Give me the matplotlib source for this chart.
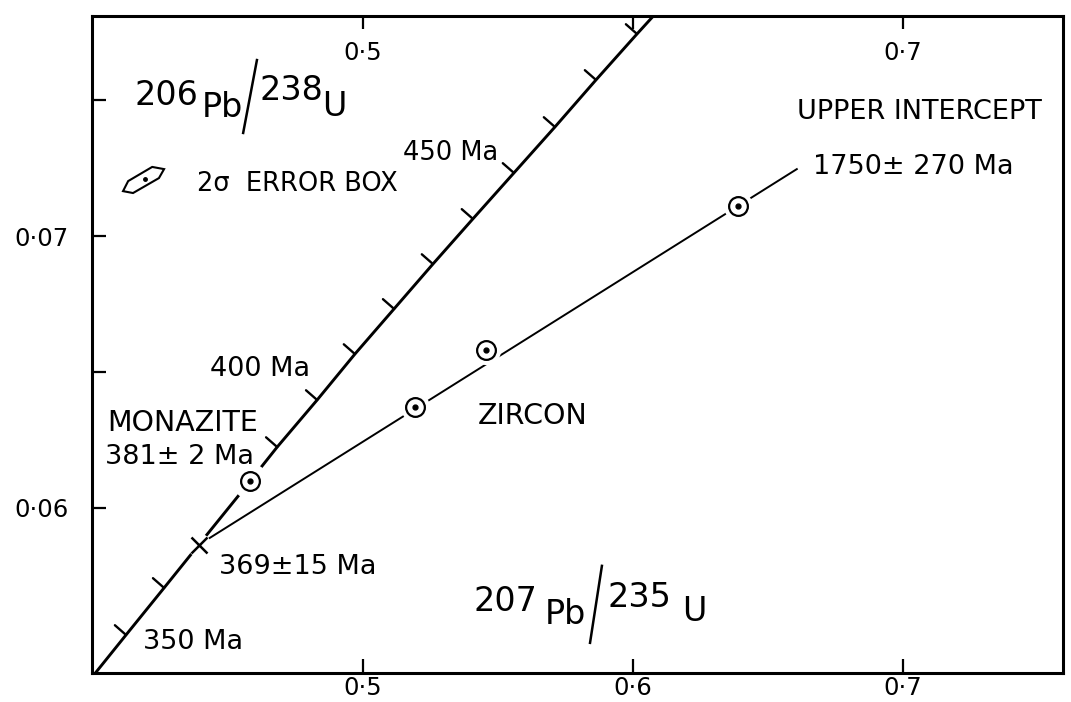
import matplotlib
matplotlib.use("Agg")
import matplotlib.pyplot as plt
from matplotlib.patches import Polygon

# concordia: 207Pb/235U (x), 206Pb/238U (y), ages in Ma
conc_age = [340, 350, 360, 370, 380, 390, 400, 410, 420, 430, 440, 450, 460, 470, 480, 490]
conc_x = [0.3985, 0.4122, 0.4263, 0.4400, 0.4541, 0.4682, 0.4830, 0.4970,
          0.5115, 0.5259, 0.5407, 0.5559, 0.5711, 0.5863, 0.6015, 0.6170]
conc_y = [0.05364, 0.05533, 0.05706, 0.05875, 0.06048, 0.06224, 0.06397, 0.06566,
          0.06732, 0.06897, 0.07063, 0.07232, 0.07401, 0.07574, 0.07743, 0.07912]
tick_ages = [350, 360, 390, 400, 410, 420, 430, 440, 450, 460, 470, 480]

# discordia through the zircons (lower intercept -> towards upper intercept)
disc_x = [0.4391, 0.6607]
disc_y = [0.05864, 0.07246]

zircon_x = [0.5193, 0.5456, 0.6389]
zircon_y = [0.06371, 0.06581, 0.07110]
monazite_x = [0.4581]
monazite_y = [0.06099]
lower_x = [0.4391]
lower_y = [0.05864]

xticks = [0.5, 0.6, 0.7]
xlabels = ['0·5', '0·6', '0·7']
top_labels = ['0·5', '', '0·7']
yticks = [0.06, 0.065, 0.07, 0.075]
ylabels = ['0·06', '', '0·07', '']

fig = plt.figure(figsize=(10.71, 7.02), dpi=100)
ax = fig.add_axes([0.0859, 0.0413, 0.9066, 0.9359])
ax.set_xlim(0.3996, 0.7593)
ax.set_ylim(0.05393, 0.07809)

for s in ax.spines.values():
    s.set_linewidth(2.2)

ax.set_xticks(xticks)
ax.set_xticklabels(xlabels)
ax.set_yticks(yticks)
ax.set_yticklabels(ylabels)
ax.tick_params(direction='in', length=10, width=1.6, labelsize=17.5)
ax.tick_params(axis='x', pad=2)
ax.tick_params(axis='y', pad=17)

top = ax.secondary_xaxis('top')
top.set_xticks(xticks)
top.set_xticklabels(top_labels)
top.tick_params(direction='in', length=9, width=1.6, labelsize=17.5, pad=-35)
top.spines['top'].set_visible(False)

# concordia + age ticks
ax.plot(conc_x, conc_y, color='black', lw=2.1, zorder=2)
for age in tick_ages:
    i = conc_age.index(age)
    ax.annotate('', xy=(conc_x[i], conc_y[i]), xytext=(-8, 7), textcoords='offset points',
                arrowprops=dict(arrowstyle='-', lw=1.7, shrinkA=0, shrinkB=0, color='black'),
                zorder=2)

# discordia
ax.plot(disc_x, disc_y, color='black', lw=1.4, zorder=2)

# white gaps round the symbols
ax.plot(zircon_x, zircon_y, 'o', ms=21, mfc='white', mec='none', zorder=3)
ax.plot(monazite_x, monazite_y, 'o', ms=26, mfc='white', mec='none', zorder=3)
ax.plot(lower_x, lower_y, 'o', ms=17, mfc='white', mec='none', zorder=3)

for xs, ys in [(zircon_x, zircon_y), (monazite_x, monazite_y)]:
    ax.plot(xs, ys, 'o', ms=13.5, mfc='white', mec='black', mew=1.6, zorder=4)
    ax.plot(xs, ys, 'o', ms=3.5, color='black', zorder=5)
ax.plot(lower_x, lower_y, 'x', ms=11, mec='black', mew=1.8, zorder=4)

txt = dict(color='black', va='baseline', ha='left')

# axis titles drawn inside the frame
big = 24
ax.text(0.4152, 0.07482, '206', fontsize=big, **txt)
ax.text(0.4404, 0.07438, 'Pb', fontsize=big, **txt)
ax.plot([0.4607, 0.4556], [0.07647, 0.07379], color='black', lw=1.8)
ax.text(0.4615, 0.07500, '238', fontsize=big, **txt)
ax.text(0.4848, 0.07441, 'U', fontsize=big, **txt)

ax.text(0.5411, 0.05621, '207', fontsize=big, **txt)
ax.text(0.5674, 0.05574, 'Pb', fontsize=big, **txt)
ax.plot([0.5885, 0.5841], [0.05787, 0.05504], color='black', lw=1.8)
ax.text(0.5907, 0.05636, '235', fontsize=big, **txt)
ax.text(0.6182, 0.05585, 'U', fontsize=big, **txt)

# error box legend glyph
box = Polygon([(0.4111, 0.07165), (0.4130, 0.07202), (0.4219, 0.07254),
               (0.4263, 0.07246), (0.4244, 0.07213), (0.4148, 0.07158)],
              closed=True, fill=False, lw=1.5, ec='black')
ax.add_patch(box)
ax.plot([0.4193], [0.07210], 'o', ms=2.5, color='black')
ax.text(0.4385, 0.07165, '2σ  ERROR BOX', fontsize=18.5, **txt)

ax.text(0.5148, 0.07279, '450 Ma', fontsize=18.5, **txt)
ax.text(0.4433, 0.06485, '400 Ma', fontsize=19.5, **txt)
ax.text(0.4185, 0.05482, '350 Ma', fontsize=19.5, **txt)
ax.text(0.4052, 0.06283, 'MONAZITE', fontsize=20.5, **txt)
ax.text(0.4044, 0.06162, '381± 2 Ma', fontsize=19.5, **txt)
ax.text(0.4467, 0.05757, '369±15 Ma', fontsize=19.5, **txt)
ax.text(0.5426, 0.06309, 'ZIRCON', fontsize=20.5, **txt)
ax.text(0.6607, 0.07430, 'UPPER INTERCEPT', fontsize=19.5, **txt)
ax.text(0.6667, 0.07228, '1750± 270 Ma', fontsize=19.5, **txt)

fig.savefig('out.png', dpi=100)
